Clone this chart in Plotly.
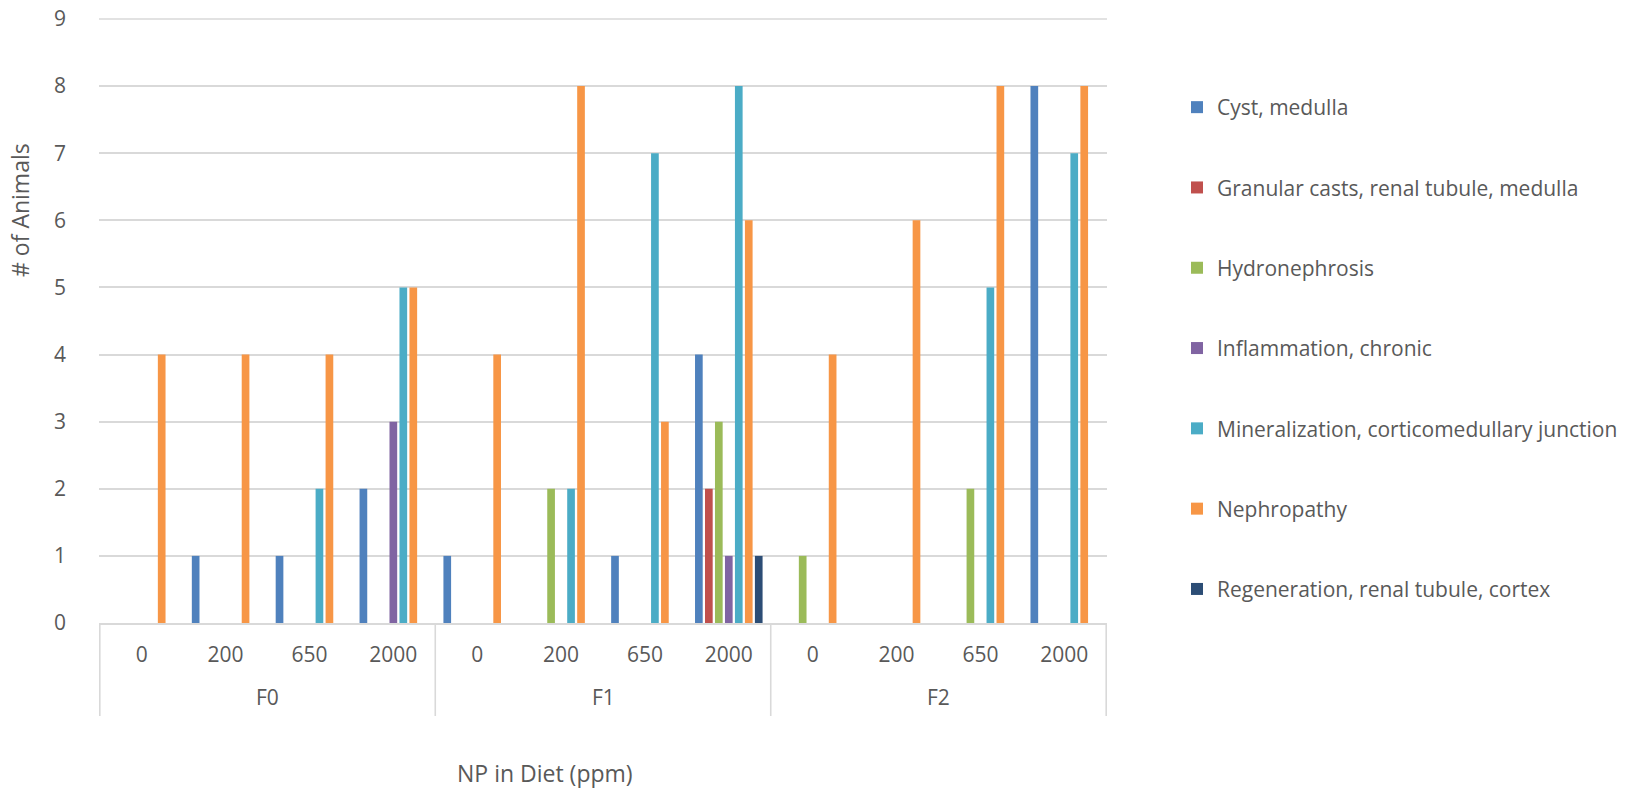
import plotly.graph_objects as go

generations = ["F0", "F1", "F2"]
doses = ["0", "200", "650", "2000"]
# one category per (generation, dose) pair, in display order
categories = [f"{g} {d}" for g in generations for d in doses]
dose_labels = [d for g in generations for d in doses]

series_names = [
    "Cyst, medulla",
    "Granular casts, renal tubule, medulla",
    "Hydronephrosis",
    "Inflammation, chronic",
    "Mineralization, corticomedullary junction",
    "Nephropathy",
    "Regeneration, renal tubule, cortex",
]
cyst = [0, 1, 1, 2, 1, 0, 1, 4, 0, 0, 0, 8]
granular = [0, 0, 0, 0, 0, 0, 0, 2, 0, 0, 0, 0]
hydro = [0, 0, 0, 0, 0, 2, 0, 3, 1, 0, 2, 0]
inflammation = [0, 0, 0, 3, 0, 0, 0, 1, 0, 0, 0, 0]
mineralization = [0, 0, 2, 5, 0, 2, 7, 8, 0, 0, 5, 7]
nephropathy = [4, 4, 4, 5, 4, 8, 3, 6, 4, 6, 8, 8]
regeneration = [0, 0, 0, 0, 0, 0, 0, 1, 0, 0, 0, 0]
series_values = [cyst, granular, hydro, inflammation, mineralization, nephropathy, regeneration]
colors = ["#4F81BD", "#C0504D", "#9BBB59", "#8064A2", "#4BACC6", "#F79646", "#2C4D75"]

FONT = "Open Sans"
GREY = "#595959"
LINE = "#D9D9D9"
Y_MAX = 9

fig = go.Figure()
for i, (name, vals) in enumerate(zip(series_names, series_values)):
    fig.add_trace(go.Bar(
        x=categories, y=vals, name=name,
        marker=dict(color=colors[i], line=dict(width=0)),
        legendgroup=f"g{i}",
    ))

W, H = 1638, 788
L, R, T, B = 99, 531, 19, 165
PW, PH = W - L - R, H - T - B

fig.update_layout(
    width=W, height=H,
    margin=dict(l=L, r=R, t=T, b=B, autoexpand=False),
    paper_bgcolor="white", plot_bgcolor="white",
    barmode="group", bargap=0.167, bargroupgap=0.23,
    font=dict(family=FONT, size=21, color=GREY),
    legend=dict(
        x=(1177 - L) / PW, y=1 - (87 - T) / PH, xanchor="left", yanchor="top",
        traceorder="grouped", tracegroupgap=50,
        font=dict(family=FONT, size=21, color=GREY),
        itemwidth=30,
    ),
    showlegend=True,
)
fig.update_yaxes(
    range=[0, Y_MAX], tickvals=list(range(Y_MAX + 1)), showgrid=True, gridcolor=LINE, gridwidth=1.6,
    zeroline=False, showline=False, ticks="",
    tickfont=dict(family=FONT, size=21, color=GREY),
    ticklabelstandoff=32,
)
fig.update_xaxes(
    type="category", categoryorder="array", categoryarray=categories,
    tickvals=categories, ticktext=dose_labels,
    showline=True, linecolor=LINE, linewidth=1.6,
    tickfont=dict(family=FONT, size=21, color=GREY),
    ticks="", showgrid=False, ticklabelstandoff=12,
)

# top gridline at the axis maximum (plotly skips gridlines on the plot edge)
fig.add_shape(
    type="line", xref="paper", yref="paper", x0=0, x1=1, y0=1, y1=1,
    line=dict(color=LINE, width=1.6), layer="below",
)

# generation group labels and dividers
n_dose = len(doses)
for gi, g in enumerate(generations):
    fig.add_annotation(
        text=g, xref="x", yref="paper",
        x=gi * n_dose + (n_dose - 1) / 2, y=-(697 - (H - B)) / PH,
        xanchor="center", yanchor="middle", showarrow=False,
        font=dict(family=FONT, size=21, color=GREY),
    )
for k in range(len(generations) + 1):
    fig.add_shape(
        type="line", xref="x", yref="paper",
        x0=k * n_dose - 0.5, x1=k * n_dose - 0.5,
        y0=0, y1=-(716 - (H - B)) / PH,
        line=dict(color=LINE, width=1.6),
    )

fig.add_annotation(
    text="# of Animals", textangle=-90, xref="paper", yref="paper",
    x=(20 - L) / PW, y=1 - (210 - T) / PH,
    xanchor="center", yanchor="middle", showarrow=False,
    font=dict(family=FONT, size=23, color=GREY),
)
fig.add_annotation(
    text="NP in Diet (ppm)", xref="paper", yref="paper",
    x=(545 - L) / PW, y=-(773 - (H - B)) / PH,
    xanchor="center", yanchor="middle", showarrow=False,
    font=dict(family=FONT, size=23, color=GREY),
)
fig.write_html(
    "out.html",
    config={"displayModeBar": False},
    post_script="document.body.style.margin='0px';",
)
